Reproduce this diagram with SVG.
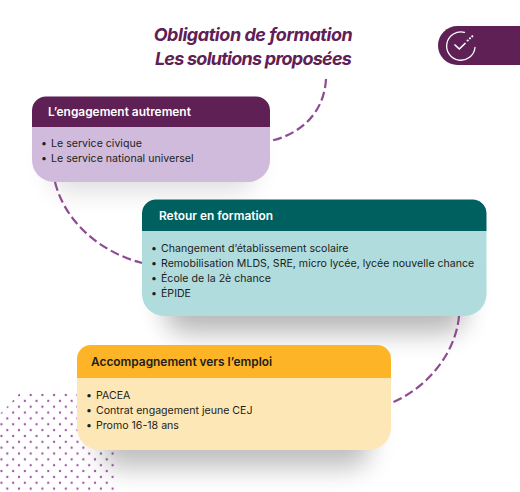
<svg xmlns="http://www.w3.org/2000/svg" width="520" height="492" viewBox="0 0 520 492">
<style>
text{font-family:"Inter","Liberation Sans",sans-serif}
.title{font-size:18px;font-weight:700;font-style:italic;fill:#5f2055;text-anchor:middle;letter-spacing:-.45px}
.t2{letter-spacing:-.75px}
.head{font-size:11.9px;font-weight:600;fill:#fff}
.dark{fill:#1d1d1b}
.body{font-size:10.6px;fill:#1d1d1b}
.conn{fill:none;stroke:#8f4a94;stroke-width:2.2;stroke-dasharray:9 4}
.sh{fill:#000;filter:url(#blur)}
</style>
<defs>
<filter id="blur" x="-30%" y="-60%" width="160%" height="220%"><feGaussianBlur stdDeviation="13"/></filter>
<pattern id="dots" patternUnits="userSpaceOnUse" x="16.075" y="392.075" width="11.7" height="11.7">
<circle cx="2.925" cy="2.925" r="1.15" fill="#9f55a3"/>
<circle cx="8.775" cy="8.775" r="1.15" fill="#9f55a3"/>
</pattern>
<clipPath id="dotclip"><path d="M0 414L20 393H114V492H0Z"/></clipPath>
</defs>
<rect width="520" height="492" fill="#fff"/>
<rect id="dot-field" x="0" y="390" width="120" height="102" fill="url(#dots)" clip-path="url(#dotclip)"/>
<g id="title">
<text class="title" x="253" y="41">Obligation de formation</text>
<text class="title t2" x="253" y="65">Les solutions proposées</text>
</g>
<g id="badge">
<path d="M520 26H457.500A19.500 19.500 0 0 0 457.500 65H520Z" fill="#5f2055"/>
<path d="M464.500 32.300A14.200 14.200 0 1 0 475 47.500" fill="none" stroke="#fff" stroke-width="1.300" stroke-linecap="round"/>
<path d="M455 45L459.300 49L465 43.500" fill="none" stroke="#fff" stroke-width="1.700" stroke-linecap="round" stroke-linejoin="round"/>
<circle cx="467.700" cy="40.500" r="1.100" fill="#fff"/><circle cx="470" cy="38.300" r="1.100" fill="#fff"/><circle cx="472.300" cy="36.300" r="1.100" fill="#fff"/>
</g>
<g id="node-engagement">
<rect class="sh" x="50" y="130" width="205" height="62" rx="20" opacity=".13"/>
<path d="M32 127V110A14 14 0 0 1 46 96.500H256A14 14 0 0 1 270 110V127Z" fill="#5f2055"/>
<path d="M32 127H270V160A22 22 0 0 1 248 182H54A22 22 0 0 1 32 160Z" fill="#d0bbdc"/>
<text class="head" x="48" y="116">L’engagement autrement</text>
<text class="body" x="41" y="147">•</text><text class="body" x="51" y="147">Le service civique</text>
<text class="body" x="41" y="162">•</text><text class="body" x="51" y="162">Le service national universel</text>
</g>
<g id="node-retour">
<rect class="sh" x="165" y="255" width="300" height="78" rx="20" opacity=".28"/>
<path d="M142 231V213A14 14 0 0 1 156 199.500H472A14 14 0 0 1 486.500 213V231Z" fill="#006060"/>
<path d="M142 231H486.500V294A22 22 0 0 1 464.500 316H164A22 22 0 0 1 142 294Z" fill="#b0dcdd"/>
<text class="head" x="159" y="220">Retour en formation</text>
<text class="body" x="151" y="252">•</text><text class="body" x="161" y="252">Changement d’établissement scolaire</text>
<text class="body" x="151" y="267">•</text><text class="body" x="161" y="267">Remobilisation MLDS, SRE, micro lycée, lycée nouvelle chance</text>
<text class="body" x="151" y="282">•</text><text class="body" x="161" y="282">École de la 2è chance</text>
<text class="body" x="151" y="297">•</text><text class="body" x="161" y="297">ÉPIDE</text>
</g>
<g id="node-emploi">
<rect class="sh" x="100" y="390" width="270" height="78" rx="20" opacity=".25"/>
<path d="M77 378V359A14 14 0 0 1 91 345H377A14 14 0 0 1 391 359V378Z" fill="#fdb427"/>
<path d="M77 378H391V428A22 22 0 0 1 369 450H99A22 22 0 0 1 77 428Z" fill="#fee7b7"/>
<text class="head dark" x="91" y="366">Accompagnement vers l’emploi</text>
<text class="body" x="86" y="399">•</text><text class="body" x="96" y="399">PACEA</text>
<text class="body" x="86" y="414">•</text><text class="body" x="96" y="414">Contrat engagement jeune CEJ</text>
<text class="body" x="86" y="429">•</text><text class="body" x="96" y="429">Promo 16-18 ans</text>
</g>
<g id="connectors">
<path class="conn" d="M326 79C324 115 298 135 270 141"/>
<path class="conn" d="M55 182C65 222 100 252 142 263"/>
<path class="conn" d="M459 316C456 352 428 388 391 403"/>
</g>
</svg>
